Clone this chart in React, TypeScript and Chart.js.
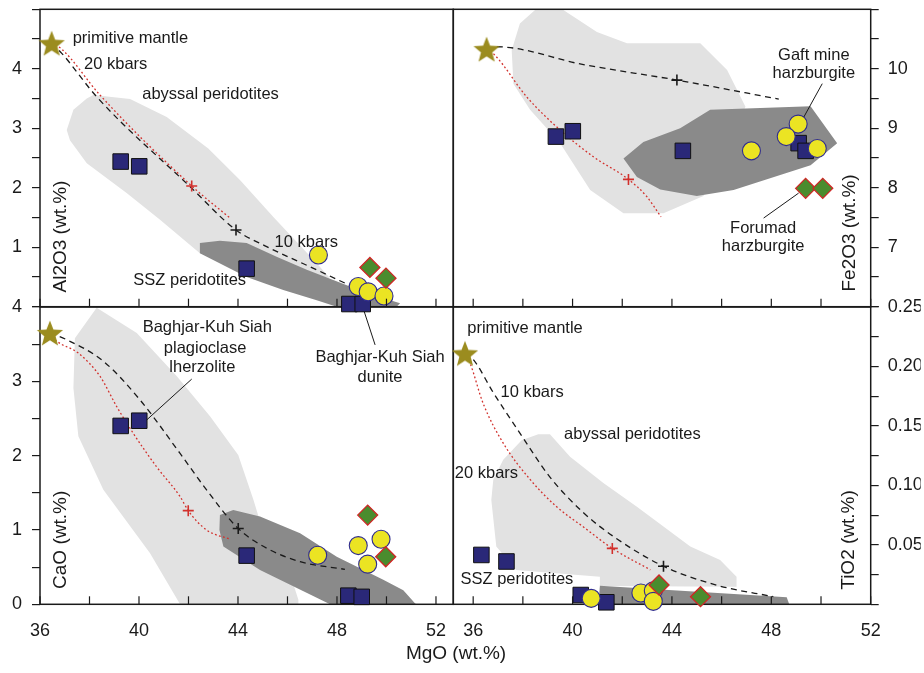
import { useEffect, useRef } from 'react';
import { Chart, registerables } from 'chart.js';

Chart.register(...registerables);

type Pt = [number, number];

// ---------- MgO axis, shared by all panels ----------
const mgoTicks = [36, 38, 40, 42, 44, 46, 48, 50, 52];
const mgoTickLabels = [36, 40, 44, 48, 52];

// ---------- Al2O3 vs MgO ----------
const alTickLabels = [1, 2, 3, 4];
const alPrimitiveMantle: Pt[] = [[36.47, 4.43]];
const alAbyssal: Pt[] = [
  [38.15, 3.56], [39.64, 3.49], [41.12, 3.19], [42.8, 2.66], [44.08, 2.13], [45.43, 1.51],
  [47.18, 0.73], [47.72, 0.48], [42.46, 0.9], [40.85, 1.46], [39.5, 1.91], [37.89, 2.41],
  [37.21, 2.8], [37.08, 2.97], [37.35, 3.31], [37.89, 3.5],
];
const alSsz: Pt[] = [
  [42.46, 1.07], [43.27, 1.11], [44.35, 1.07], [45.56, 0.84], [46.78, 0.62], [47.85, 0.45],
  [49.2, 0.23], [50.55, 0.06], [50.41, 0], [47.99, 0], [47.18, 0.11], [45.83, 0.28],
  [44.35, 0.5], [42.46, 0.9],
];
const alMelt10: Pt[] = [
  [36.47, 4.43], [36.88, 4.26], [38.29, 3.53], [42.06, 2.02], [43.92, 1.29], [45.16, 1.01],
  [47.18, 0.62], [48.66, 0.33],
];
const alMelt20: Pt[] = [[36.47, 4.43], [36.88, 4.33], [38.42, 3.56], [42.13, 2.03], [43.68, 1.49]];
const alStep10: Pt[] = [[43.92, 1.29]];
const alStep20: Pt[] = [[42.13, 2.03]];
const alBaghjar: Pt[] = [[39.26, 2.44], [40.01, 2.36], [44.35, 0.64], [48.5, 0.045], [49.04, 0.045]];
const alGaft: Pt[] = [[47.25, 0.87], [48.86, 0.34], [49.26, 0.25], [49.9, 0.18]];
const alForumad: Pt[] = [[49.33, 0.66], [49.98, 0.48]];

// ---------- Fe2O3 vs MgO ----------
const feTickLabels = [7, 8, 9, 10];
const fePrimitiveMantle: Pt[] = [[36.54, 10.33]];
const feAbyssal: Pt[] = [
  [38.49, 10.99], [39.63, 10.99], [40.98, 10.62], [42.19, 10.43], [45.14, 10.43], [46.22, 9.98],
  [46.96, 9.36], [45.81, 8.35], [45.27, 7.86], [43.66, 7.57], [42.05, 7.57], [40.71, 7.96],
  [39.5, 8.75], [38.29, 9.31], [37.62, 9.75], [37.55, 10.31], [37.88, 10.76],
];
const feSsz: Pt[] = [
  [42.05, 8.49], [42.85, 8.77], [44.33, 9.0], [45.54, 9.31], [49.58, 9.37], [50.65, 8.75],
  [49.58, 8.38], [46.48, 7.96], [45.0, 7.86], [43.53, 7.97], [42.59, 8.18],
];
const feMelt10: Pt[] = [[36.54, 10.33], [36.94, 10.37], [40.44, 10.07], [44.2, 9.81], [48.3, 9.49]];
const feMelt20: Pt[] = [
  [36.54, 10.33], [36.87, 10.23], [38.15, 9.53], [39.5, 8.97], [40.84, 8.52], [42.25, 8.14],
  [42.99, 7.85], [43.56, 7.51],
];
const feStep10: Pt[] = [[44.2, 9.81]];
const feStep20: Pt[] = [[42.25, 8.14]];
const feBaghjar: Pt[] = [[39.33, 8.86], [40.01, 8.95], [44.44, 8.62], [49.1, 8.75], [49.38, 8.62]];
const feGaft: Pt[] = [[47.2, 8.62], [49.08, 9.07], [48.6, 8.86], [49.85, 8.66]];
const feForumad: Pt[] = [[49.38, 7.99], [50.07, 7.99]];

// ---------- CaO vs MgO ----------
const caTickLabels = [0, 1, 2, 3, 4];
const caPrimitiveMantle: Pt[] = [[36.4, 3.65]];
const caAbyssal: Pt[] = [
  [38.29, 3.99], [39.91, 3.65], [41.52, 3.07], [42.87, 2.53], [44.01, 2.01], [44.62, 1.41],
  [45.16, 0.82], [46.23, 0.28], [46.44, 0.06], [46.44, 0], [41.66, 0], [40.44, 0.69],
  [38.56, 1.54], [37.55, 2.26], [37.35, 2.91], [37.41, 3.58],
];
const caSsz: Pt[] = [
  [43.27, 1.2], [43.81, 1.27], [44.89, 1.18], [46.51, 0.957], [47.99, 0.64], [49.87, 0.33],
  [50.68, 0.19], [51.15, 0.013], [51.2, 0], [47.72, 0], [44.89, 0.46], [43.41, 0.776], [43.25, 1.0],
];
const caMelt10: Pt[] = [
  [36.4, 3.65], [37.08, 3.56], [38.56, 3.27], [40.04, 2.75], [41.66, 2.03], [42.73, 1.54],
  [44.01, 1.02], [45.16, 0.755], [46.51, 0.574], [48.32, 0.47],
];
const caMelt20: Pt[] = [
  [36.4, 3.65], [36.61, 3.56], [37.55, 3.38], [38.42, 3.07], [39.1, 2.66], [39.77, 2.3],
  [40.71, 1.85], [41.66, 1.45], [41.99, 1.26], [42.73, 1.0], [43.68, 0.876],
];
const caStep10: Pt[] = [[44.01, 1.02]];
const caStep20: Pt[] = [[41.99, 1.26]];
const caBaghjar: Pt[] = [[39.26, 2.4], [40.01, 2.47], [44.35, 0.655], [48.46, 0.116], [49.0, 0.1]];
const caGaft: Pt[] = [[47.22, 0.66], [48.86, 0.79], [49.78, 0.876], [49.24, 0.54]];
const caForumad: Pt[] = [[49.24, 1.2], [49.97, 0.64]];

// ---------- TiO2 vs MgO ----------
const tiTickLabels = [0.05, 0.1, 0.15, 0.2, 0.25];
const tiPrimitiveMantle: Pt[] = [[35.67, 0.211]];
const tiAbyssal: Pt[] = [
  [37.95, 0.138], [38.62, 0.143], [39.09, 0.143], [39.9, 0.124], [41.24, 0.102], [42.59, 0.082],
  [44.74, 0.0485], [45.94, 0.0373], [46.6, 0.0232], [46.6, 0.0148], [41.1, 0.0154], [41.1, 0.0232],
  [37.73, 0.0289], [36.93, 0.0485], [36.73, 0.0878], [36.81, 0.105], [37.21, 0.1215],
];
const tiSsz: Pt[] = [[41.1, 0.0155], [48.62, 0.006], [48.72, 0], [41.04, 0]];
const tiMelt10: Pt[] = [
  [35.67, 0.211], [36.0, 0.206], [36.81, 0.178], [37.88, 0.144], [39.09, 0.107], [40.44, 0.077],
  [41.65, 0.057], [43.66, 0.032], [45.81, 0.016], [48.08, 0.0064],
];
const tiMelt20: Pt[] = [
  [35.67, 0.211], [35.87, 0.203], [36.4, 0.169], [37.21, 0.1355], [38.29, 0.105], [39.36, 0.082],
  [40.44, 0.065], [41.6, 0.047], [43.13, 0.029],
];
const tiStep10: Pt[] = [[43.66, 0.032]];
const tiStep20: Pt[] = [[41.6, 0.047]];
const tiBaghjar: Pt[] = [[36.33, 0.0415], [37.34, 0.036], [40.33, 0.0078], [41.36, 0.0017]];
const tiGaft: Pt[] = [[40.75, 0.005], [42.75, 0.0095], [43.25, 0.0113], [43.25, 0.0025]];
const tiForumad: Pt[] = [[43.48, 0.0162], [45.15, 0.0064]];

// ---------- styling ----------
const PAGE_W = 924;
const PAGE_H = 673;
const EDGE = 30; // spare canvas margin round every panel
const FONT = "'Liberation Sans', Arial, Helvetica, sans-serif";
const INK = '#1a1a1a';
const LIGHT = '#e2e2e2';
const DARK = '#8a8a8a';
const NAVY = '#2a2878';
const YELLOW = '#ebe423';
const CIRCLE_EDGE = '#2f2c90';
const GREEN = '#4a8c2e';
const DIAMOND_EDGE = '#d02626';
const STAR_FILL = '#9b8c1f';
const MELT_RED = '#d2302c';

type Note = { text: string; x: number; y: number; align?: CanvasTextAlign; rotate?: boolean; size?: number };

interface Panel {
  area: { left: number; top: number; right: number; bottom: number };
  xMin: number;
  xMax: number;
  yMin: number;
  yMax: number;
  yStep: number;
  yTickLabels: number[];
  yDigits: number;
  ySide: 'left' | 'right';
  showX: boolean;
  abyssal: Pt[];
  ssz: Pt[];
  melt10: Pt[];
  melt20: Pt[];
  step10: Pt[];
  step20: Pt[];
  baghjar: Pt[];
  gaft: Pt[];
  forumad: Pt[];
  primitive: Pt[];
  notes: Note[];
  leaders: [Pt, Pt][];
}

const panels: { key: string; spec: Panel }[] = [
  {
    key: 'cao',
    spec: {
      area: { left: 40, top: 307, right: 453.3, bottom: 604.3 },
      xMin: 36, xMax: 52.7, yMin: 0, yMax: 4, yStep: 0.5, yTickLabels: caTickLabels, yDigits: 0,
      ySide: 'left', showX: true,
      abyssal: caAbyssal, ssz: caSsz, melt10: caMelt10, melt20: caMelt20, step10: caStep10,
      step20: caStep20, baghjar: caBaghjar, gaft: caGaft, forumad: caForumad, primitive: caPrimitiveMantle,
      notes: [
        { text: 'Baghjar-Kuh Siah', x: 42.76, y: 3.72, align: 'center' },
        { text: 'plagioclase', x: 42.67, y: 3.44, align: 'center' },
        { text: 'lherzolite', x: 42.56, y: 3.18, align: 'center' },
        { text: 'Baghjar-Kuh Siah', x: 49.74, y: 3.32, align: 'center' },
        { text: 'dunite', x: 49.74, y: 3.05, align: 'center' },
        { text: 'CaO (wt.%)', x: 36.84, y: 0.867, rotate: true, size: 19 },
        { text: 'MgO (wt.%)', x: 52.81, y: -0.66, align: 'center', size: 19 },
      ],
      leaders: [
        [[42.13, 3.03], [40.31, 2.48]],
        [[49.54, 3.49], [49.05, 3.99]],
      ],
    },
  },
  {
    key: 'tio2',
    spec: {
      area: { left: 453.3, top: 307, right: 870.7, bottom: 604.3 },
      xMin: 35.2, xMax: 52, yMin: 0, yMax: 0.25, yStep: 0.025, yTickLabels: tiTickLabels, yDigits: 2,
      ySide: 'right', showX: true,
      abyssal: tiAbyssal, ssz: tiSsz, melt10: tiMelt10, melt20: tiMelt20, step10: tiStep10,
      step20: tiStep20, baghjar: tiBaghjar, gaft: tiGaft, forumad: tiForumad, primitive: tiPrimitiveMantle,
      notes: [
        { text: 'primitive mantle', x: 35.76, y: 0.2323 },
        { text: '10 kbars', x: 37.1, y: 0.1781 },
        { text: 'abyssal peridotites', x: 39.66, y: 0.1425 },
        { text: '20 kbars', x: 35.26, y: 0.1103 },
        { text: 'SSZ peridotites', x: 35.49, y: 0.0205 },
        { text: 'TiO2 (wt.%)', x: 51.12, y: 0.0541, rotate: true, size: 19 },
      ],
      leaders: [],
    },
  },
  {
    key: 'al2o3',
    spec: {
      area: { left: 40, top: 9.3, right: 453.3, bottom: 306.7 },
      xMin: 36, xMax: 52.7, yMin: 0, yMax: 5, yStep: 0.5, yTickLabels: alTickLabels, yDigits: 0,
      ySide: 'left', showX: false,
      abyssal: alAbyssal, ssz: alSsz, melt10: alMelt10, melt20: alMelt20, step10: alStep10,
      step20: alStep20, baghjar: alBaghjar, gaft: alGaft, forumad: alForumad, primitive: alPrimitiveMantle,
      notes: [
        { text: 'primitive mantle', x: 37.32, y: 4.51 },
        { text: '20 kbars', x: 37.78, y: 4.07 },
        { text: 'abyssal peridotites', x: 40.13, y: 3.56 },
        { text: '10 kbars', x: 45.48, y: 1.08 },
        { text: 'SSZ peridotites', x: 39.77, y: 0.44 },
        { text: 'Al2O3 (wt.%)', x: 36.85, y: 1.18, rotate: true, size: 19 },
      ],
      leaders: [],
    },
  },
  {
    key: 'fe2o3',
    spec: {
      area: { left: 453.3, top: 9.3, right: 870.7, bottom: 306.7 },
      xMin: 35.2, xMax: 52, yMin: 6, yMax: 11, yStep: 0.5, yTickLabels: feTickLabels, yDigits: 0,
      ySide: 'right', showX: false,
      abyssal: feAbyssal, ssz: feSsz, melt10: feMelt10, melt20: feMelt20, step10: feStep10,
      step20: feStep20, baghjar: feBaghjar, gaft: feGaft, forumad: feForumad, primitive: fePrimitiveMantle,
      notes: [
        { text: 'Gaft mine', x: 49.71, y: 10.23, align: 'center' },
        { text: 'harzburgite', x: 49.71, y: 9.92, align: 'center' },
        { text: 'Forumad', x: 47.67, y: 7.32, align: 'center' },
        { text: 'harzburgite', x: 47.67, y: 7.01, align: 'center' },
        { text: 'Fe2O3 (wt.%)', x: 51.14, y: 7.24, rotate: true, size: 19 },
      ],
      leaders: [
        [[50.05, 9.75], [49.31, 9.19]],
        [[47.69, 7.49], [49.1, 7.91]],
      ],
    },
  },
];

function makeStar(): HTMLCanvasElement {
  const size = 30;
  const c = document.createElement('canvas');
  c.width = size;
  c.height = size;
  const ctx = c.getContext('2d')!;
  const R = 13.8;
  const r = R * 0.43;
  const cx = size / 2;
  const cy = size / 2 + R * 0.1;
  ctx.beginPath();
  for (let i = 0; i < 10; i++) {
    const ang = -Math.PI / 2 + (i * Math.PI) / 5;
    const rad = i % 2 === 0 ? R : r;
    ctx.lineTo(cx + rad * Math.cos(ang), cy + rad * Math.sin(ang));
  }
  ctx.closePath();
  ctx.fillStyle = STAR_FILL;
  ctx.fill();
  return c;
}

const xy = (a: Pt[]) => a.map(([x, y]) => ({ x, y }));

function buildChart(canvas: HTMLCanvasElement, p: Panel, star: HTMLCanvasElement): Chart {
  const yW = p.ySide === 'left' ? 40 : 50;
  const xH = p.showX ? 40 : 0;
  // canvas is the page grown by EDGE on every side
  const padding = {
    left: EDGE + (p.ySide === 'left' ? p.area.left - yW : p.area.left),
    right: EDGE + (p.ySide === 'right' ? PAGE_W - p.area.right - yW : PAGE_W - p.area.right),
    top: EDGE + p.area.top,
    bottom: EDGE + PAGE_H - p.area.bottom - xH,
  };

  const decor = {
    id: 'panelDecor',
    afterDatasetDraw(chart: any, args: any) {
      // frame goes on top of the shaded fields, below lines and samples
      if (args.index !== 1) return;
      const { ctx, chartArea: a } = chart;
      ctx.save();
      ctx.strokeStyle = INK;
      ctx.lineWidth = 1.5;
      ctx.strokeRect(a.left, a.top, a.right - a.left, a.bottom - a.top);
      ctx.restore();
    },
    afterDraw(chart: any) {
      const { ctx, chartArea: a, scales } = chart;
      const xs = scales.x;
      const ys = scales.y;
      ctx.save();
      // inward MgO ticks on the lower edge
      ctx.strokeStyle = INK;
      ctx.lineWidth = 1.2;
      for (const v of mgoTicks) {
        if (v < p.xMin || v > p.xMax) continue;
        const px = xs.getPixelForValue(v);
        ctx.beginPath();
        ctx.moveTo(px, a.bottom);
        ctx.lineTo(px, a.bottom - 8);
        ctx.stroke();
      }
      // leader lines
      ctx.lineWidth = 1;
      for (const [s, e] of p.leaders) {
        ctx.beginPath();
        ctx.moveTo(xs.getPixelForValue(s[0]), ys.getPixelForValue(s[1]));
        ctx.lineTo(xs.getPixelForValue(e[0]), ys.getPixelForValue(e[1]));
        ctx.stroke();
      }
      // labels
      ctx.fillStyle = INK;
      ctx.textBaseline = 'middle';
      for (const n of p.notes) {
        ctx.font = `${n.size ?? 16.5}px ${FONT}`;
        const px = xs.getPixelForValue(n.x);
        const py = ys.getPixelForValue(n.y);
        if (n.rotate) {
          ctx.save();
          ctx.translate(px, py);
          ctx.rotate(-Math.PI / 2);
          ctx.textAlign = 'center';
          ctx.fillText(n.text, 0, 0);
          ctx.restore();
        } else {
          ctx.textAlign = n.align ?? 'left';
          ctx.fillText(n.text, px, py);
        }
      }
      ctx.restore();
    },
  };

  const tickFont = { family: FONT, size: 18 };

  const config: any = {
    type: 'scatter',
    data: {
      datasets: [
        {
          type: 'line', label: 'abyssal peridotites', data: xy(p.abyssal), fill: 'shape',
          backgroundColor: LIGHT, borderWidth: 0, pointRadius: 0, tension: 0, order: 9,
        },
        {
          type: 'line', label: 'SSZ peridotites', data: xy(p.ssz), fill: 'shape',
          backgroundColor: DARK, borderWidth: 0, pointRadius: 0, tension: 0, order: 8,
        },
        {
          type: 'line', label: '10 kbars', data: xy(p.melt10), fill: false, borderColor: INK,
          borderWidth: 1.3, borderDash: [6, 4.5], pointRadius: 0, cubicInterpolationMode: 'monotone', order: 7,
        },
        {
          type: 'line', label: '20 kbars', data: xy(p.melt20), fill: false, borderColor: MELT_RED,
          borderWidth: 1.3, borderDash: [1.8, 2.4], pointRadius: 0, cubicInterpolationMode: 'monotone', order: 6,
        },
        {
          label: '10 kbars step', data: xy(p.step10), pointStyle: 'cross', pointRadius: 5.5,
          borderColor: INK, borderWidth: 1.6, order: 5,
        },
        {
          label: '20 kbars step', data: xy(p.step20), pointStyle: 'cross', pointRadius: 5.5,
          borderColor: MELT_RED, borderWidth: 1.6, order: 5,
        },
        {
          label: 'Baghjar-Kuh Siah', data: xy(p.baghjar), pointStyle: 'rect', pointRadius: 11,
          backgroundColor: NAVY, borderColor: '#111', borderWidth: 1, order: 4, clip: false,
        },
        {
          label: 'Gaft mine harzburgite', data: xy(p.gaft), pointStyle: 'circle', pointRadius: 9,
          backgroundColor: YELLOW, borderColor: CIRCLE_EDGE, borderWidth: 1.1, order: 3, clip: false,
        },
        {
          label: 'Forumad harzburgite', data: xy(p.forumad), pointStyle: 'rectRot', pointRadius: 10,
          backgroundColor: GREEN, borderColor: DIAMOND_EDGE, borderWidth: 1.3, order: 2, clip: false,
        },
        {
          label: 'primitive mantle', data: xy(p.primitive), pointStyle: star, pointRadius: 14,
          order: 1, clip: false,
        },
      ],
    },
    options: {
      responsive: false,
      animation: false,
      devicePixelRatio: 1,
      events: [],
      layout: { padding, autoPadding: false },
      plugins: { legend: { display: false }, tooltip: { enabled: false } },
      scales: {
        x: {
          type: 'linear',
          min: p.xMin,
          max: p.xMax,
          display: p.showX,
          grid: { display: false, drawTicks: false },
          border: { display: false },
          ticks: {
            stepSize: 2,
            autoSkip: false,
            includeBounds: false,
            maxRotation: 0,
            padding: 16,
            font: tickFont,
            color: INK,
            callback: (v: number) => (mgoTickLabels.includes(v) ? String(v) : ''),
          },
          afterFit: (s: any) => {
            s.height = xH;
          },
        },
        y: {
          type: 'linear',
          position: p.ySide,
          min: p.yMin,
          max: p.yMax,
          grid: {
            display: true,
            drawOnChartArea: false,
            drawTicks: true,
            tickLength: 8,
            color: INK,
            lineWidth: 1.2,
          },
          border: { display: false },
          ticks: {
            stepSize: p.yStep,
            autoSkip: false,
            includeBounds: false,
            padding: p.ySide === 'left' ? 10 : 9,
            font: tickFont,
            color: INK,
            callback: (v: number) =>
              p.yTickLabels.some((t) => Math.abs(t - v) < 1e-9) ? v.toFixed(p.yDigits) : '',
          },
          afterFit: (s: any) => {
            s.width = yW;
          },
        },
      },
    },
    plugins: [decor],
  };

  return new Chart(canvas, config);
}

export default function App() {
  const refs = useRef<(HTMLCanvasElement | null)[]>([]);

  useEffect(() => {
    const star = makeStar();
    const charts: Chart[] = [];
    panels.forEach((panel, i) => {
      const canvas = refs.current[i];
      if (canvas) charts.push(buildChart(canvas, panel.spec, star));
    });
    return () => charts.forEach((c) => c.destroy());
  }, []);

  const cw = PAGE_W + 2 * EDGE;
  const ch = PAGE_H + 2 * EDGE;

  return (
    <div
      style={{
        position: 'absolute',
        left: 0,
        top: 0,
        width: PAGE_W,
        height: PAGE_H,
        overflow: 'hidden',
        background: '#ffffff',
      }}
    >
      {panels.map((panel, i) => (
        <canvas
          key={panel.key}
          ref={(el) => {
            refs.current[i] = el;
          }}
          width={cw}
          height={ch}
          style={{ position: 'absolute', left: -EDGE, top: -EDGE, width: cw, height: ch }}
        />
      ))}
    </div>
  );
}
